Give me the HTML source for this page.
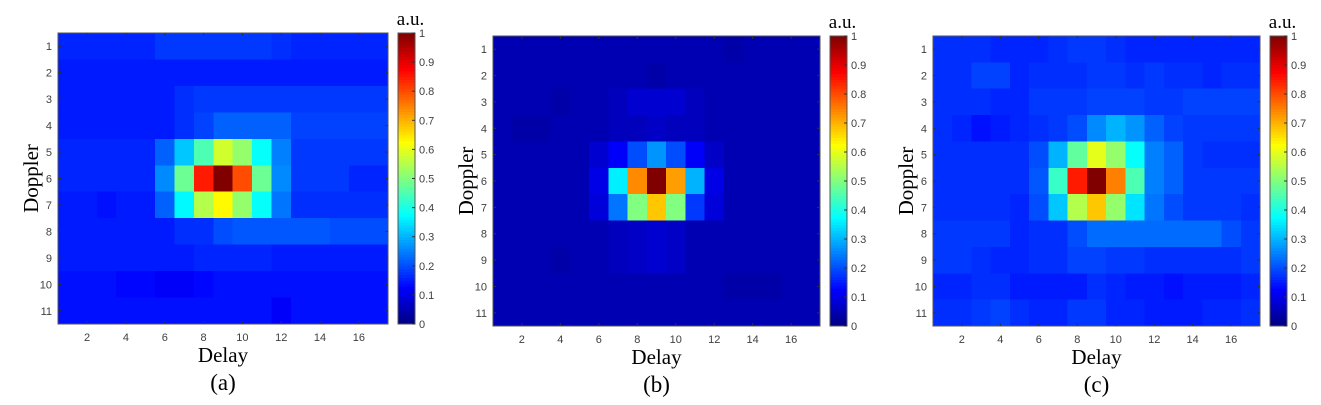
<!DOCTYPE html>
<html><head><meta charset="utf-8">
<style>
html,body{margin:0;padding:0;background:#fff;}
svg{display:block;}
.tk{font-family:"Liberation Sans",sans-serif;font-size:11px;fill:#404040;}
.lb{font-family:"Liberation Serif",serif;font-size:21px;fill:#000;}
.cap{font-family:"Liberation Serif",serif;font-size:23px;fill:#000;}
</style></head>
<body>
<svg id="fig" width="1321" height="405" viewBox="0 0 1321 405" xmlns="http://www.w3.org/2000/svg"></svg>
<script>
const xTicks=[2,4,6,8,10,12,14,16];
const yTicks=[1,2,3,4,5,6,7,8,9,10,11];
const cbTicks=[0,0.1,0.2,0.3,0.4,0.5,0.6,0.7,0.8,0.9,1];
const cbTickLabels=["0","0.1","0.2","0.3","0.4","0.5","0.6","0.7","0.8","0.9","1"];
const panelLabels=["(a)","(b)","(c)"];
const dataA=[
[.16,.16,.16,.16,.16,.18,.18,.18,.18,.18,.18,.17,.16,.16,.16,.16,.16],
[.15,.15,.15,.15,.15,.15,.15,.15,.15,.15,.15,.15,.15,.15,.15,.15,.15],
[.15,.15,.15,.15,.15,.15,.17,.18,.18,.18,.18,.18,.18,.18,.18,.18,.18],
[.15,.15,.15,.15,.15,.15,.17,.19,.22,.22,.22,.22,.19,.19,.19,.19,.19],
[.16,.16,.16,.16,.16,.22,.32,.45,.58,.52,.38,.25,.18,.18,.18,.18,.18],
[.16,.16,.16,.16,.16,.26,.48,.85,1.0,.80,.48,.26,.18,.18,.18,.16,.16],
[.15,.15,.14,.15,.15,.22,.37,.55,.63,.52,.38,.24,.17,.17,.17,.17,.17],
[.15,.15,.15,.15,.15,.15,.17,.17,.20,.21,.21,.21,.21,.21,.20,.20,.20],
[.15,.15,.15,.15,.15,.15,.15,.16,.16,.16,.16,.15,.15,.15,.15,.15,.15],
[.14,.14,.14,.13,.13,.12,.12,.13,.14,.14,.14,.14,.14,.14,.14,.14,.14],
[.14,.14,.14,.14,.14,.14,.14,.14,.14,.14,.14,.12,.14,.14,.14,.14,.14]];
const dataB=[
[.05,.05,.05,.05,.05,.05,.05,.05,.05,.05,.05,.05,.04,.05,.05,.05,.05],
[.05,.05,.05,.05,.05,.05,.05,.05,.04,.05,.05,.05,.05,.05,.05,.05,.05],
[.05,.05,.05,.04,.05,.05,.06,.08,.08,.08,.06,.05,.05,.05,.05,.05,.05],
[.05,.04,.04,.05,.05,.05,.06,.06,.07,.06,.06,.05,.05,.05,.05,.05,.05],
[.05,.05,.05,.05,.05,.08,.12,.20,.27,.20,.12,.07,.05,.05,.05,.05,.05],
[.05,.05,.05,.05,.05,.10,.36,.74,1.0,.72,.30,.10,.05,.05,.05,.05,.05],
[.05,.05,.05,.05,.05,.09,.24,.50,.68,.50,.18,.09,.05,.05,.05,.05,.05],
[.05,.05,.05,.05,.05,.05,.06,.07,.08,.07,.05,.05,.05,.05,.05,.05,.05],
[.05,.05,.05,.04,.05,.05,.06,.07,.08,.07,.05,.05,.05,.05,.05,.05,.05],
[.05,.05,.05,.05,.05,.05,.05,.05,.05,.05,.05,.05,.04,.04,.04,.05,.05],
[.05,.05,.05,.05,.05,.05,.05,.05,.05,.05,.05,.05,.05,.05,.05,.05,.05]];
const dataC=[
[.17,.17,.17,.16,.16,.16,.17,.18,.18,.17,.16,.16,.16,.16,.16,.16,.16],
[.17,.17,.19,.19,.16,.17,.17,.17,.18,.18,.17,.18,.17,.17,.16,.17,.17],
[.17,.17,.17,.16,.16,.18,.18,.18,.19,.19,.19,.18,.18,.19,.19,.19,.19],
[.17,.16,.14,.15,.16,.17,.18,.20,.26,.30,.27,.22,.19,.18,.18,.18,.18],
[.17,.17,.17,.17,.17,.20,.30,.47,.60,.52,.38,.25,.22,.18,.17,.17,.17],
[.17,.17,.17,.17,.17,.21,.43,.85,1.0,.75,.45,.25,.22,.18,.18,.18,.18],
[.17,.17,.17,.17,.16,.20,.32,.55,.68,.52,.35,.24,.20,.18,.18,.18,.17],
[.18,.18,.18,.18,.16,.17,.17,.20,.23,.23,.23,.23,.23,.23,.23,.20,.18],
[.18,.18,.17,.16,.16,.17,.17,.19,.19,.18,.18,.17,.17,.17,.17,.17,.18],
[.16,.16,.17,.17,.15,.15,.15,.15,.17,.16,.15,.15,.14,.15,.15,.15,.16],
[.17,.17,.18,.19,.17,.16,.16,.18,.18,.16,.16,.15,.15,.15,.16,.16,.17]];
const panelData=[dataA,dataB,dataC];
const layouts=[
 {x0:58,x1:388,y0:33,y1:324,cx:398,cw:17},
 {x0:493,x1:820,y0:36,y1:326,cx:830,cw:17},
 {x0:933,x1:1260,y0:36,y1:326,cx:1270,cw:17}];
const names=['a','b','c'];
const NS='http://www.w3.org/2000/svg';
const svg=document.getElementById('fig');
function cl(v){return Math.max(0,Math.min(1,v));}
function jet(v){const r=cl(1.5-Math.abs(4*v-3)),g=cl(1.5-Math.abs(4*v-2)),b=cl(1.5-Math.abs(4*v-1));
 return `rgb(${Math.round(r*255)},${Math.round(g*255)},${Math.round(b*255)})`;}
function mk(tag,attrs,parent){const e=document.createElementNS(NS,tag);for(const k in attrs)e.setAttribute(k,attrs[k]);(parent||svg).appendChild(e);return e;}
layouts.forEach((L,p)=>{
 const data=panelData[p];const nR=data.length,nC=data[0].length;
 const g=mk('g',{});
 
 
 const xs=c=>L.x0+(c-0.5)*(L.x1-L.x0)/nC;
 const ys=r=>L.y0+(r-0.5)*(L.y1-L.y0)/nR;
 const cw=(L.x1-L.x0)/nC, rh=(L.y1-L.y0)/nR;
 data.forEach((row,ri)=>row.forEach((v,ci)=>{
  const rc=mk('rect',{x:(xs(ci+1)-cw/2).toFixed(2),y:(ys(ri+1)-rh/2).toFixed(2),width:(cw+0.6).toFixed(2),height:(rh+0.6).toFixed(2),fill:jet(v),'shape-rendering':'crispEdges'},g);
  
  
 }));
 const fr=mk('rect',{x:L.x0,y:L.y0,width:L.x1-L.x0,height:L.y1-L.y0,fill:'none',stroke:'#555','stroke-width':1},g);
 
 
 xTicks.forEach(t=>{const x=xs(t);
  mk('line',{x1:x,x2:x,y1:L.y1,y2:L.y1-3,stroke:'#333'},g);
  mk('line',{x1:x,x2:x,y1:L.y0,y2:L.y0+3,stroke:'#333'},g);
  const tx=mk('text',{x:x,y:L.y1+17,'text-anchor':'middle',class:'tk'},g);tx.textContent=t;
  
  });
 yTicks.forEach(t=>{const y=ys(t);
  mk('line',{x1:L.x0,x2:L.x0+3,y1:y,y2:y,stroke:'#333'},g);
  mk('line',{x1:L.x1,x2:L.x1-3,y1:y,y2:y,stroke:'#333'},g);
  const tx=mk('text',{x:L.x0-6,y:y+4,'text-anchor':'end',class:'tk'},g);tx.textContent=t;
  
  });
 const xl=mk('text',{x:(L.x0+L.x1)/2,y:L.y1+38,'text-anchor':'middle',class:'lb'},g);xl.textContent='Delay';
 
 
 const ymid=(L.y0+L.y1)/2;
 const yl=mk('text',{x:L.x0-20,y:ymid,'text-anchor':'middle',class:'lb',transform:`rotate(-90 ${L.x0-20} ${ymid})`},g);yl.textContent='Doppler';
 
 
 const cp=mk('text',{x:(L.x0+L.x1)/2,y:L.y1+66,'text-anchor':'middle',class:'cap'},g);cp.textContent=panelLabels[p];
 
 
 const cb=mk('g',{},g);
 
 
 const N=100,h=(L.y1-L.y0)/N;
 for(let i=0;i<N;i++){mk('rect',{x:L.cx,y:(L.y1-(i+1)*h).toFixed(2),width:L.cw,height:(h+0.5).toFixed(2),fill:jet((i+0.5)/N)},cb);}
 mk('rect',{x:L.cx,y:L.y0,width:L.cw,height:L.y1-L.y0,fill:'none',stroke:'#555'},cb);
 const cy=v=>L.y1-v*(L.y1-L.y0);
 cbTicks.forEach((t,i)=>{const y=cy(t);
  mk('line',{x1:L.cx+L.cw,x2:L.cx+L.cw-3,y1:y,y2:y,stroke:'#333'},cb);
  const tx=mk('text',{x:L.cx+L.cw+4,y:y+4,class:'tk'},cb);tx.textContent=cbTickLabels[i];
  
  });
 const au=mk('text',{x:L.cx+L.cw/2+4,y:L.y0-8,'text-anchor':'middle',class:'lb',style:'font-size:19px'},cb);au.textContent='a.u.';
 
 
});
</script>
</body></html>
